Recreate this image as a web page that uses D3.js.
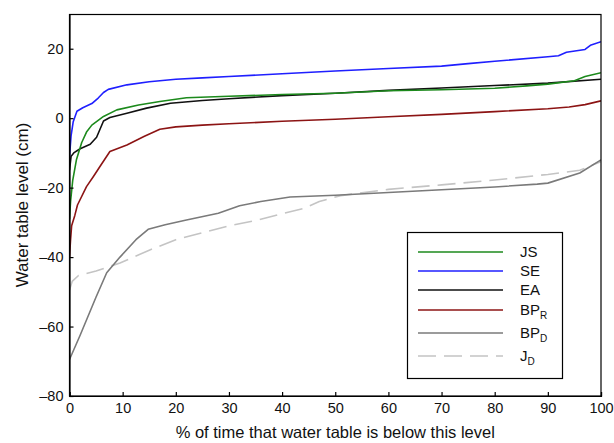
<!DOCTYPE html>
<html>
<head>
<meta charset="utf-8">
<script src="https://cdn.jsdelivr.net/npm/d3@7"></script>
<style>
  html, body { margin: 0; padding: 0; background: #fff; }
  svg { display: block; font-family: "Liberation Sans", Arial, sans-serif; }
</style>
</head>
<body>
<svg id="chart" width="614" height="443"></svg>
<script>
// Water table duration curves: % of time water table is below a given level
const xTicks = [0, 10, 20, 30, 40, 50, 60, 70, 80, 90, 100];
const yTicks = [-80, -60, -40, -20, 0, 20];

const seriesNames = ["JS", "SE", "EA", "BPR", "BPD", "JD"];

const jsData = [[0,-29],[0.2,-24],[0.6,-18],[1.3,-12],[2.3,-7],[3.2,-4],[4.2,-2],[6.4,0.5],[8.9,2.4],[13,3.8],[17,4.8],[22,5.9],[30,6.3],[40,6.8],[50,7.2],[60,7.9],[70,8.2],[80,8.6],[86,9.3],[90,9.8],[95,10.8],[97,12],[100,13.1]];
const seData = [[0,-11],[0.3,-5],[0.7,-1],[1.4,2],[2.5,3],[4.2,4.2],[5.4,5.8],[6.4,7.4],[7.3,8.3],[10.8,9.6],[15,10.5],[20,11.2],[25,11.6],[30,12],[40,12.8],[50,13.6],[60,14.3],[70,15],[75,15.7],[80,16.4],[90,17.7],[92,18],[93.5,19],[97,19.8],[98,21],[100,22]];
const eaData = [[0,-15],[0.3,-11],[0.8,-10],[2,-8.8],[3.9,-7.5],[5.1,-5.5],[6.4,-0.8],[7.6,0.2],[10.8,1.4],[14.5,2.9],[19,4.3],[25,5.1],[30,5.6],[40,6.5],[50,7.2],[60,8],[70,8.7],[80,9.4],[90,10.1],[100,11.2]];
const bpRData = [[0,-40],[0.2,-35],[0.4,-31],[1,-28],[1.5,-25],[3.2,-19.7],[4.5,-16.8],[5.7,-14],[7.6,-9.6],[10.8,-7.7],[14,-5.3],[17,-3.2],[20,-2.5],[25,-2],[30,-1.6],[40,-0.9],[50,-0.3],[60,0.4],[70,1.1],[80,1.9],[90,2.7],[94,3.2],[97,3.9],[100,5]];
const bpDData = [[0,-69.5],[2,-62.5],[5,-51.5],[7,-44.5],[9.5,-40],[12.5,-35],[14.8,-32],[18,-30.7],[22,-29.3],[28,-27.4],[32,-25.2],[36,-24],[41.5,-22.7],[50,-22.2],[60,-21.4],[70,-20.6],[80,-19.8],[88,-19],[90,-18.7],[96,-15.8],[100,-12]];
const jDData = [[0,-49.5],[0.5,-47],[1.7,-45.3],[5,-44],[9.5,-41.7],[15,-38],[20,-35],[25,-33],[30,-31],[35,-29.5],[40,-27.5],[44,-26],[47,-24],[51,-22.3],[55,-21.5],[60,-20.5],[70,-19.2],[80,-17.8],[90,-16.2],[96,-15],[100,-12.5]];

const series = [
  { label: "JS", sub: "",  data: jsData,  color: "#1c8a1c", dash: null },
  { label: "SE", sub: "",  data: seData,  color: "#1f1fff", dash: null },
  { label: "EA", sub: "",  data: eaData,  color: "#111111", dash: null },
  { label: "BP", sub: "R", data: bpRData, color: "#8c1414", dash: null },
  { label: "BP", sub: "D", data: bpDData, color: "#7a7a7a", dash: null },
  { label: "J",  sub: "D", data: jDData,  color: "#c4c4c4", dash: "18,8" }
];

const svg = d3.select("#chart");
const plotL = 69.5, plotR = 601, plotT = 14, plotB = 396;

const x = d3.scaleLinear().domain([0, 100]).range([plotL, plotR]);
const y = d3.scaleLinear().domain([-80, 30]).range([plotB, plotT]);

svg.append("defs").append("clipPath").attr("id", "plot-clip")
  .append("rect").attr("x", plotL).attr("y", plotT)
  .attr("width", plotR - plotL).attr("height", plotB - plotT);

// curves
const line = d3.line().x(d => x(d[0])).y(d => y(d[1]));
const gLines = svg.append("g").attr("clip-path", "url(#plot-clip)");
series.slice().reverse().forEach(s => {
  gLines.append("path")
    .attr("d", line(s.data))
    .attr("fill", "none")
    .attr("stroke", s.color)
    .attr("stroke-width", 1.6)
    .attr("stroke-linejoin", "round")
    .attr("stroke-dasharray", s.dash);
});

// frame
svg.append("rect")
  .attr("x", plotL).attr("y", plotT + 0.5)
  .attr("width", plotR - plotL).attr("height", plotB - plotT - 0.5)
  .attr("fill", "none").attr("stroke", "#000").attr("stroke-width", 1.2);

// axes with inward ticks
const xAxis = d3.axisBottom(x).tickValues(xTicks).tickSize(-4).tickPadding(7);
const yAxis = d3.axisLeft(y).tickValues(yTicks).tickSize(-4).tickPadding(6)
  .tickFormat(d => d < 0 ? "\u2013" + Math.abs(d) : d);

const gx = svg.append("g").attr("transform", `translate(0,${plotB})`).call(xAxis);
const gy = svg.append("g").attr("transform", `translate(${plotL},0)`).call(yAxis);
[gx, gy].forEach(g => {
  g.select(".domain").attr("stroke", "#000").attr("stroke-width", 1.2);
  g.selectAll(".tick line").attr("stroke", "#000").attr("stroke-width", 1.2);
  g.selectAll(".tick text").attr("fill", "#111").style("font-size", "14.5px")
    .style("font-family", "'Liberation Sans', Arial, sans-serif");
});

// axis titles
svg.append("text")
  .attr("x", (plotL + plotR) / 2).attr("y", 438)
  .attr("text-anchor", "middle")
  .style("font-size", "16.5px").attr("fill", "#111")
  .text("% of time that water table is below this level");

svg.append("text")
  .attr("transform", `translate(28,${(plotT + plotB) / 2}) rotate(-90)`)
  .attr("text-anchor", "middle")
  .style("font-size", "17px").attr("fill", "#111")
  .text("Water table level (cm)");

// legend
const legend = svg.append("g");
legend.append("rect")
  .attr("x", 407.5).attr("y", 232.5).attr("width", 155).attr("height", 146)
  .attr("fill", "#fff").attr("stroke", "#000").attr("stroke-width", 1.2);
const rowY = [252, 271, 290, 310, 333, 356];
series.forEach((s, i) => {
  legend.append("line")
    .attr("x1", 418).attr("x2", 503).attr("y1", rowY[i]).attr("y2", rowY[i])
    .attr("stroke", s.color).attr("stroke-width", 1.6)
    .attr("stroke-dasharray", s.dash);
  const t = legend.append("text")
    .attr("x", 520).attr("y", rowY[i] + 5)
    .style("font-size", "15px").attr("fill", "#111");
  t.append("tspan").text(s.label);
  if (s.sub) {
    t.append("tspan").attr("dy", 4).style("font-size", "10px").text(s.sub);
  }
});
</script>
</body>
</html>
